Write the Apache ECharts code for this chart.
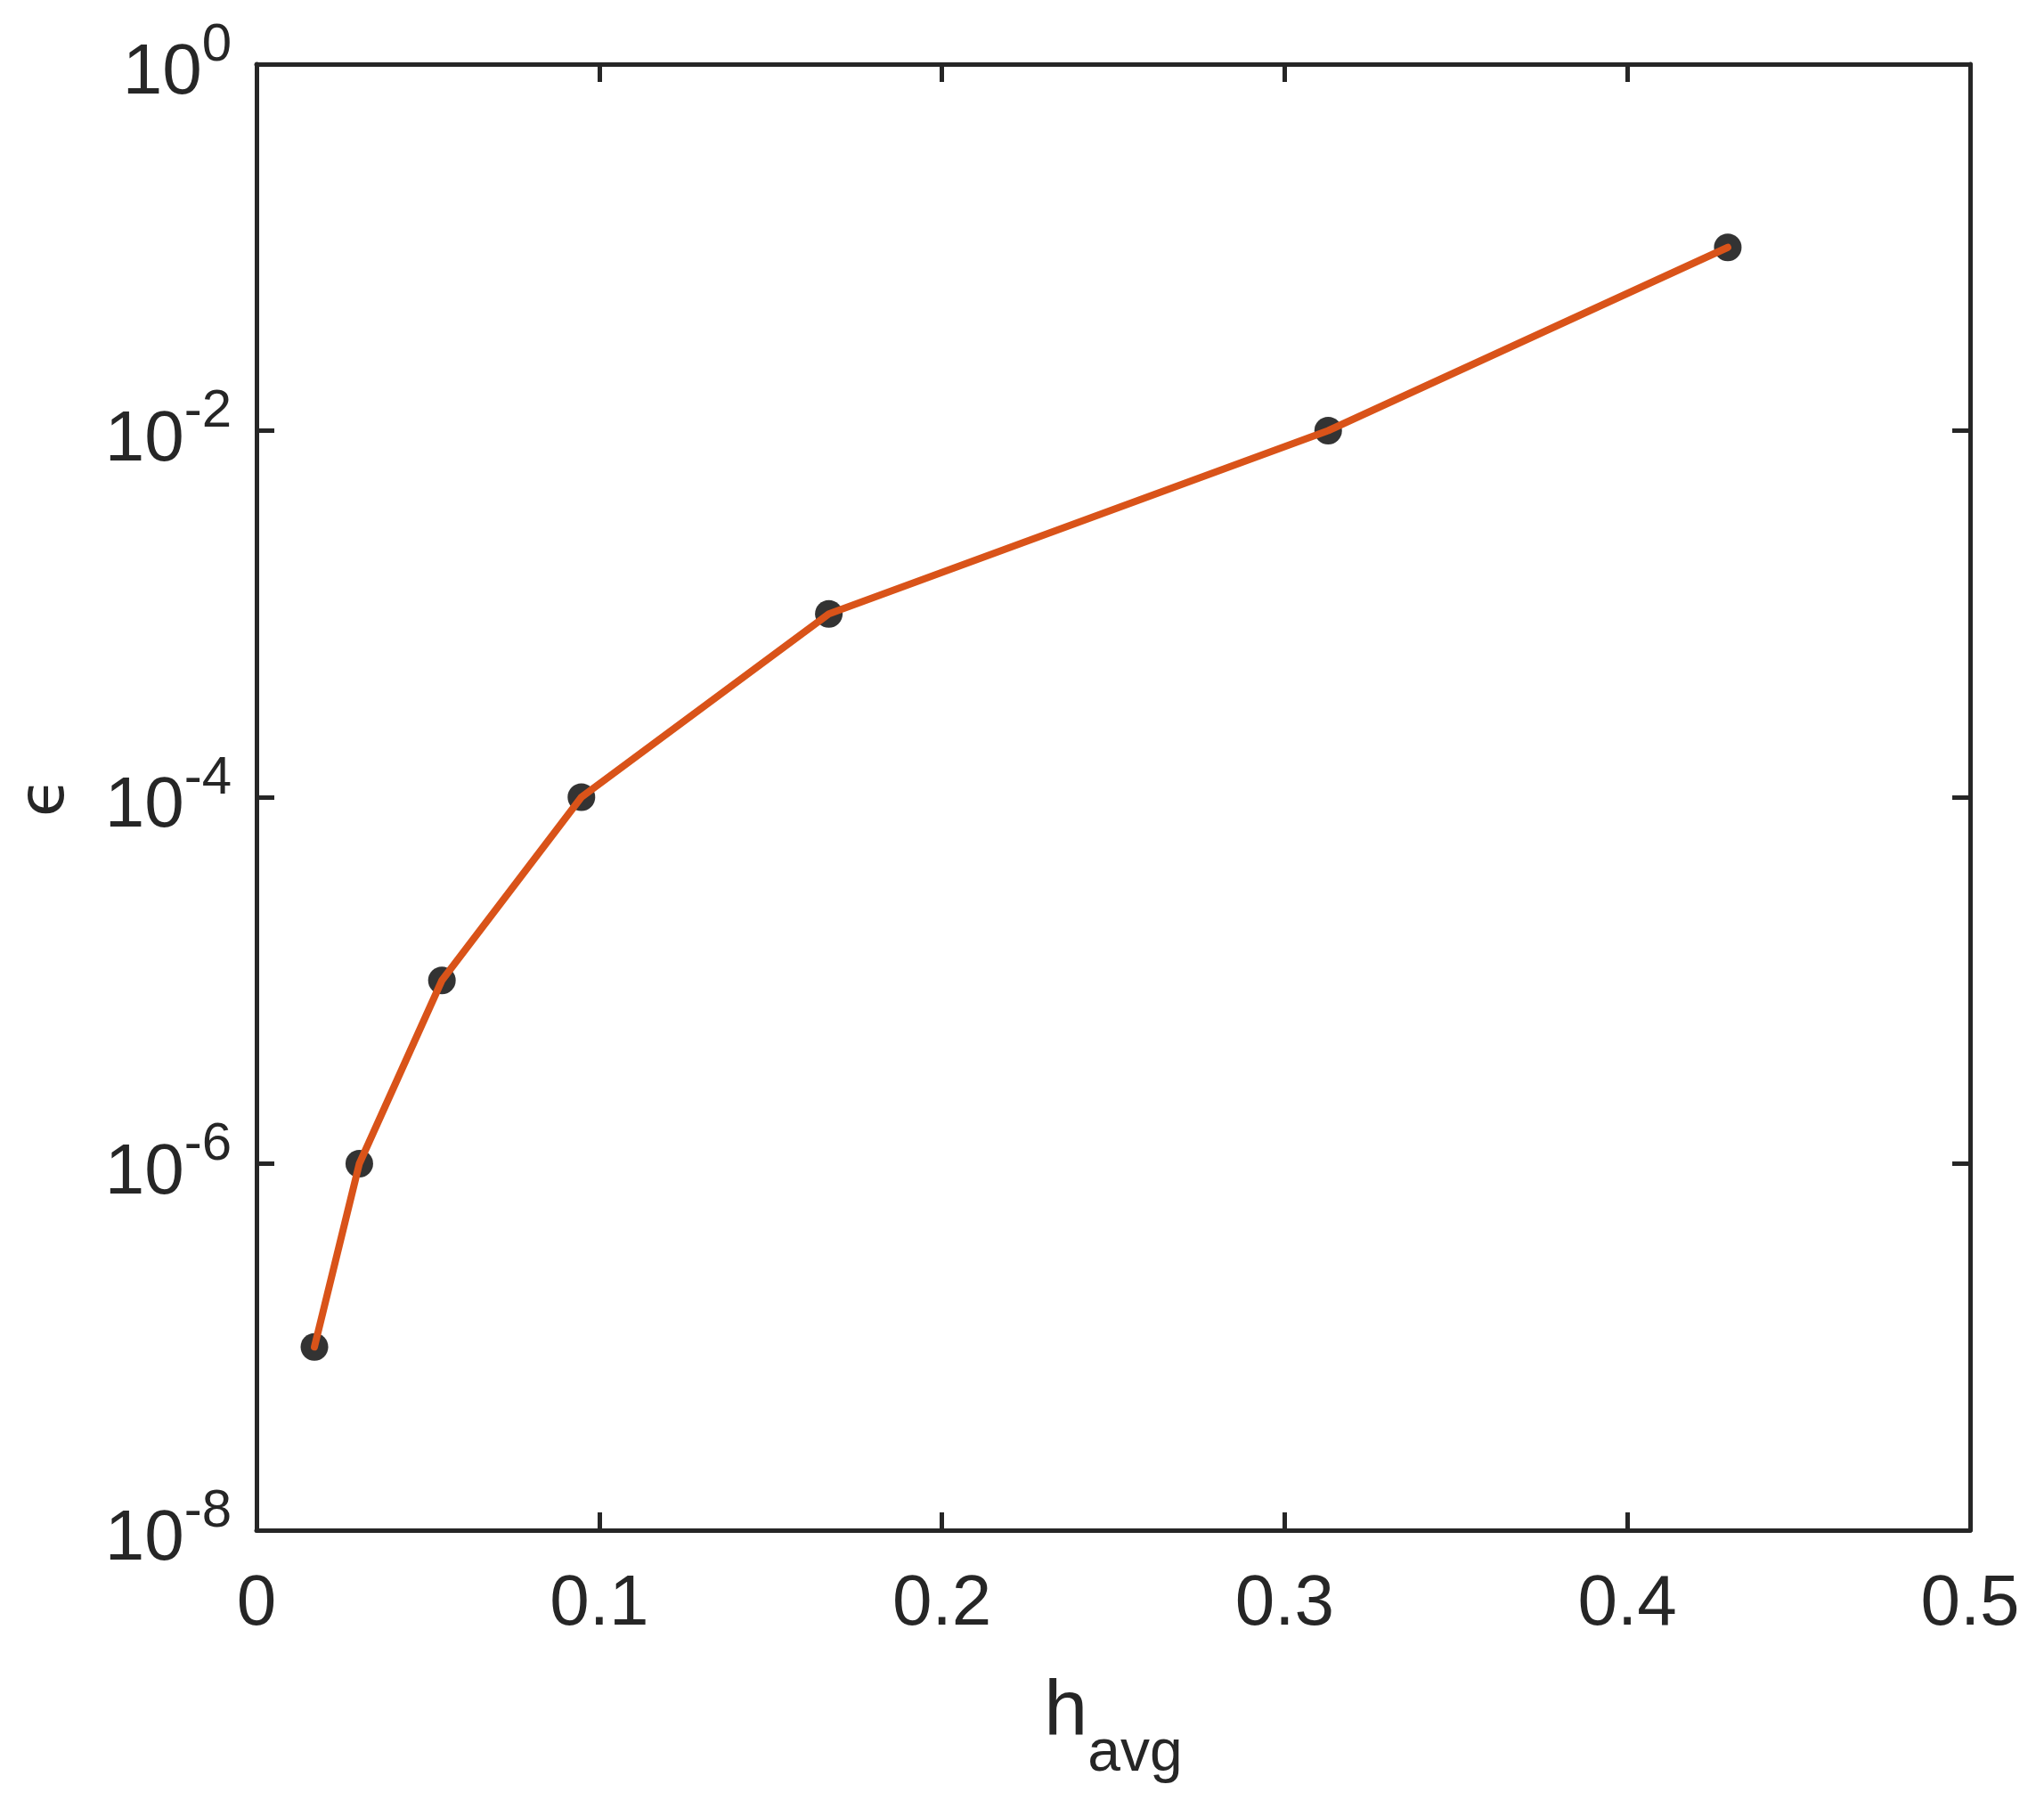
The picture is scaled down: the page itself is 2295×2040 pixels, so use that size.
<!DOCTYPE html>
<html><head><meta charset="utf-8">
<script src="https://cdn.jsdelivr.net/npm/echarts@6/dist/echarts.min.js"></script>
<style>html,body{margin:0;padding:0;background:#fff}#c{width:2295px;height:2040px}</style>
</head><body><div id="c"></div>
<script>
// data
const hAvg = [0.0169, 0.0300, 0.0541, 0.0948, 0.1670, 0.3127, 0.4293];
const errVals = [1e-7, 1e-6, 1e-5, 1e-4, 1e-3, 1e-2, 1e-1];
const xRange = [0, 0.5];
const xStep = 0.1;
const yRange = [1e-8, 1];
const yStepDecades = 2;

const FONT = '"Liberation Sans", Arial, Helvetica, sans-serif';
const TXT = '#262626';
const pts = hAvg.map((h, i) => [h, errVals[i]]);

const chart = echarts.init(document.getElementById('c'), null, {renderer: 'canvas'});
const axisLine = {show: true, onZero: false, lineStyle: {color: TXT, width: 5}};
const axisTick = {show: true, inside: true, length: 20, lineStyle: {color: TXT, width: 5}};

chart.setOption({
  animation: false,
  backgroundColor: '#ffffff',
  grid: {left: 288, right: 83, top: 72, bottom: 322, containLabel: false},
  xAxis: [{
    type: 'value', min: xRange[0], max: xRange[1], interval: xStep, position: 'bottom',
    axisLine, axisTick, splitLine: {show: false},
    axisLabel: {margin: 44, fontSize: 80, fontFamily: FONT, color: TXT,
      formatter: v => (Math.round(v * 10) / 10).toString()},
    name: '{h|h}{s|avg}', nameLocation: 'middle', nameGap: 161,
    nameTextStyle: {rich: {
      h: {fontSize: 88, lineHeight: 88, verticalAlign: 'top', fontFamily: FONT, color: TXT},
      s: {fontSize: 66, lineHeight: 124, verticalAlign: 'bottom', padding: [58, 0, 0, 0], fontFamily: FONT, color: TXT}
    }}
  }, {
    type: 'value', min: xRange[0], max: xRange[1], interval: xStep, position: 'top',
    axisLine, axisTick, splitLine: {show: false}, axisLabel: {show: false}
  }],
  yAxis: [{
    type: 'log', logBase: 10, min: yRange[0], max: yRange[1], interval: yStepDecades, position: 'left',
    axisLine, axisTick, splitLine: {show: false}, minorTick: {show: false},
    axisLabel: {margin: 28,
      formatter: v => '{b|10}{s|' + Math.round(Math.log10(v)) + '}',
      rich: {
        b: {fontSize: 80, lineHeight: 80, verticalAlign: 'bottom', fontFamily: FONT, color: TXT},
        s: {fontSize: 60, lineHeight: 102, verticalAlign: 'top', padding: [0, 0, 42, 0], fontFamily: FONT, color: TXT}
      }},
    name: '\u03F5', nameLocation: 'middle', nameGap: 200, nameRotate: 90,
    nameTextStyle: {fontSize: 72, fontFamily: '"DejaVu Sans", ' + FONT, color: TXT}
  }, {
    type: 'log', logBase: 10, min: yRange[0], max: yRange[1], interval: yStepDecades, position: 'right',
    axisLine, axisTick, splitLine: {show: false}, axisLabel: {show: false}, minorTick: {show: false}
  }],
  series: [{
    type: 'scatter', data: pts, symbol: 'circle', symbolSize: 31, z: 2,
    itemStyle: {color: '#000000'}
  }, {
    type: 'line', data: pts, showSymbol: false, symbol: 'none', z: 3,
    lineStyle: {color: '#D95319', width: 8, join: 'round', cap: 'round'}
  }]
});
</script></body></html>
